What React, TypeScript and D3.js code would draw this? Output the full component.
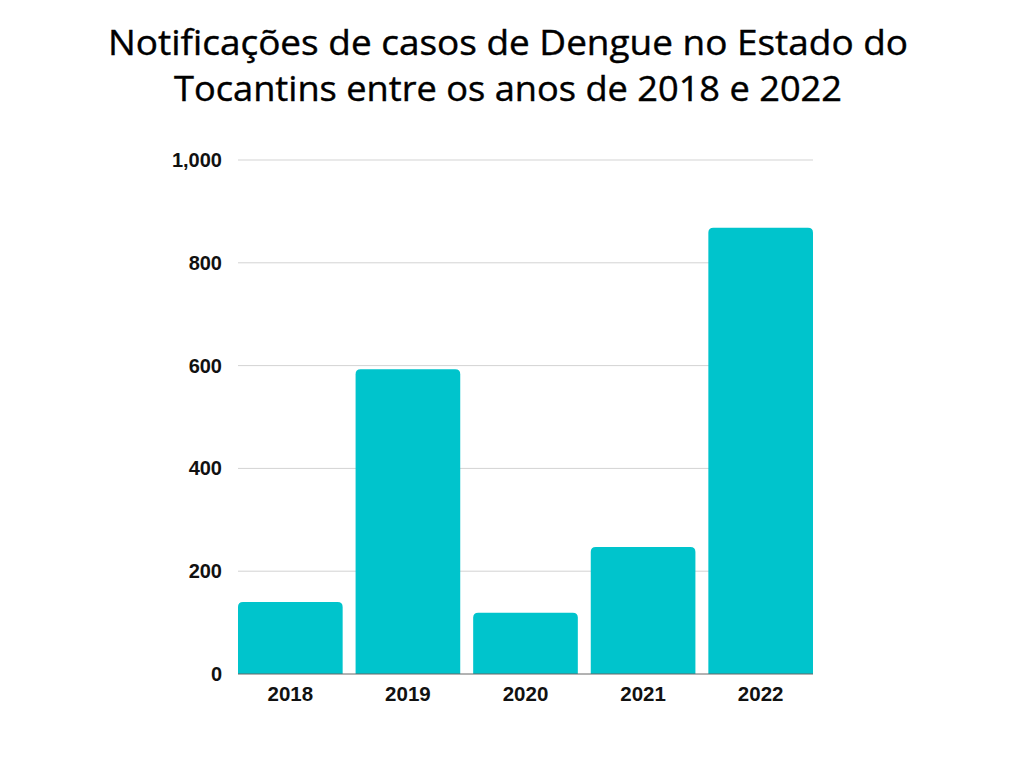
import React from "react";
import * as d3 from "d3";

const years = ["2018", "2019", "2020", "2021", "2022"];
const cases = [140, 593, 119, 247, 868];
const yTicks = [0, 200, 400, 600, 800, 1000];
const titleLines = [
  "Notificações de casos de Dengue no Estado do",
  "Tocantins entre os anos de 2018 e 2022",
];
const titleWidths = [800, 668];

const W = 1024;
const H = 768;
const left = 238;
const right = 813;
const top = 160;
const bottom = 674;

function roundedTopBar(x: number, y: number, w: number, h: number, r: number) {
  const rr = Math.min(r, h, w / 2);
  const p = d3.path();
  p.moveTo(x, y + h);
  p.lineTo(x, y + rr);
  p.quadraticCurveTo(x, y, x + rr, y);
  p.lineTo(x + w - rr, y);
  p.quadraticCurveTo(x + w, y, x + w, y + rr);
  p.lineTo(x + w, y + h);
  p.closePath();
  return p.toString();
}

export default function App() {
  const x = d3.scaleBand<string>().domain(years).range([left, right]).paddingInner(0.11).paddingOuter(0);
  const y = d3.scaleLinear().domain([0, 1000]).range([bottom, top]);
  const fmt = d3.format(",");
  return (
    <svg width={W} height={H} style={{ position: "absolute", left: 0, top: 0, background: "#fff" }}>
      <rect width={W} height={H} fill="#fff" />
      {titleLines.map((t, i) => (
        <text
          key={i}
          x={508}
          y={55 + i * 46}
          textAnchor="middle"
          fontFamily="'Open Sans', sans-serif"
          fontSize={34}
          fontWeight={500}
          fill="#000"
          stroke="#000"
          strokeWidth={0.4}
          textLength={titleWidths[i]}
          lengthAdjust="spacingAndGlyphs"
        >
          {t}
        </text>
      ))}
      {yTicks.map((t) => (
        <g key={t}>
          {t > 0 && (
            <line x1={left} x2={right} y1={y(t)} y2={y(t)} stroke="#d3d3d3" strokeWidth={1} />
          )}
          <text
            x={222}
            y={y(t) + 7}
            textAnchor="end"
            fontFamily="'Liberation Sans', Arial, sans-serif"
            fontWeight="bold"
            fontSize={20}
            fill="#111"
          >
            {fmt(t)}
          </text>
        </g>
      ))}
      {years.map((yr, i) => (
        <path
          key={yr}
          d={roundedTopBar(x(yr)!, y(cases[i]), x.bandwidth(), bottom - y(cases[i]), 5)}
          fill="#00C4CC"
        />
      ))}
      <line x1={left} x2={right} y1={bottom} y2={bottom} stroke="#666" strokeWidth={1} />
      {years.map((yr) => (
        <text
          key={yr}
          x={x(yr)! + x.bandwidth() / 2}
          y={701}
          textAnchor="middle"
          fontFamily="'Liberation Sans', Arial, sans-serif"
          fontWeight="bold"
          fontSize={20.5}
          fill="#111"
        >
          {yr}
        </text>
      ))}
    </svg>
  );
}
